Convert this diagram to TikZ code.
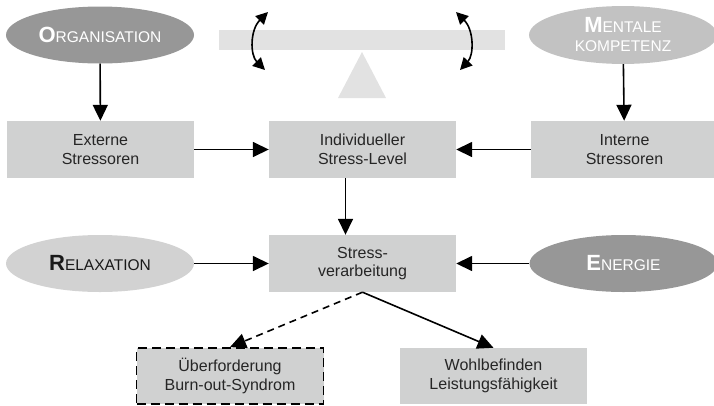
\documentclass[tikz,border=0pt]{standalone}
\usepackage{fontspec}
\setmainfont{Liberation Sans}
\usetikzlibrary{shapes,arrows.meta}

\definecolor{boxgray}{HTML}{D0D1D1}
\definecolor{darkoval}{HTML}{979797}
\definecolor{midoval}{HTML}{C2C2C2}
\definecolor{lightoval}{HTML}{D2D2D2}
\definecolor{beamgray}{HTML}{E2E2E2}

\newcommand{\capword}[2]{{\fontsize{22}{19}\selectfont\bfseries #1}#2}

\begin{document}
\begin{tikzpicture}[x=1pt,y=-1pt,
    box/.style={fill=boxgray, minimum width=187pt, minimum height=57pt,
        align=center, text=black!85, font=\fontsize{16}{18.5}\selectfont},
    oval/.style={ellipse, minimum width=188pt, minimum height=57pt,
        align=center, font=\fontsize{15.5}{19}\selectfont},
    arr/.style={line width=1.6pt, -{Triangle[length=16pt,width=15pt]}},
    swing/.style={line width=1.6pt,
        {Triangle[length=12pt,width=12pt]}-{Triangle[length=12pt,width=12pt]}},
    ]
    \useasboundingbox (0,0) rectangle (714,405);

    % seesaw
    \fill[beamgray] (219,30) rectangle (505,50);
    \fill[beamgray] (362,52) -- (386,98) -- (338,98) -- cycle;
    \draw[swing] (268,12) .. controls (250,30) and (250,55) .. (265,70);
    \draw[swing] (456,12) .. controls (474,30) and (474,55) .. (460,70);

    % ovals
    \node[oval, fill=darkoval, text=white] (org) at (100,35) {\capword{O}{RGANISATION}};
    \node[oval, fill=midoval, text=white] (ment) at (623,35) {\capword{M}{ENTALE}\\KOMPETENZ};
    \node[oval, fill=lightoval, text=black!90] (relax) at (100,263.5) {\capword{R}{ELAXATION}};
    \node[oval, fill=darkoval, text=white] (energ) at (623.5,263.5) {\capword{E}{NERGIE}};

    % boxes
    \node[box] (ext) at (100.5,149.5) {Externe\\Stressoren};
    \node[box] (level) at (362.5,149.5) {Individueller\\Stress-Level};
    \node[box] (int) at (624.5,149.5) {Interne\\Stressoren};
    \node[box] (stress) at (362.5,263.5) {Stress-\\verarbeitung};
    \node[box, minimum height=56pt, draw, line width=1.8pt,
        dash pattern=on 9pt off 5pt] (ueber) at (230,376) {Überforderung\\Burn-out-Syndrom};
    \node[box, minimum height=56pt] (wohl) at (493.5,376) {Wohlbefinden\\Leistungsfähigkeit};

    % connectors
    \draw[arr] (org) -- (ext);
    \draw[arr] (ment) -- (int);
    \draw[arr] (ext) -- (level);
    \draw[arr] (int) -- (level);
    \draw[arr] ([xshift=-17pt]level.south) -- ([xshift=-17pt]stress.north);
    \draw[arr] (relax) -- (stress);
    \draw[arr] (energ) -- (stress);
    \draw[arr, dash pattern=on 7pt off 5pt] (stress.south) -- (ueber.north);
    \draw[arr] (stress.south) -- (wohl.north);
\end{tikzpicture}
\end{document}
